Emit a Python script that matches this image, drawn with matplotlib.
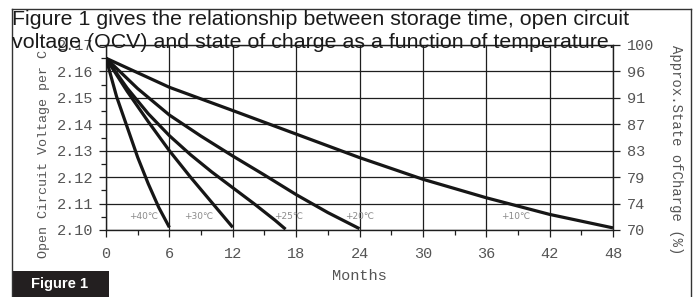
import matplotlib
matplotlib.use("Agg")
import matplotlib.pyplot as plt
from matplotlib.lines import Line2D
from matplotlib.patches import Rectangle
from matplotlib.transforms import Bbox, TransformedBbox

# ---- data ----
months_40 = [0, 1, 2, 3, 4, 5, 6]
ocv_40 = [2.165, 2.1505, 2.1390, 2.1275, 2.1175, 2.1085, 2.1010]
months_30 = [0, 2, 4, 6, 8, 10, 12]
ocv_30 = [2.165, 2.1525, 2.1410, 2.1300, 2.1200, 2.1105, 2.1010]
months_25 = [0, 2, 4, 6, 8, 10, 12, 14, 16, 17]
ocv_25 = [2.165, 2.1537, 2.1440, 2.1357, 2.1285, 2.1220, 2.1160, 2.1100, 2.1037, 2.1003]
months_20 = [0, 3, 6, 9, 12, 15, 18, 21, 24]
ocv_20 = [2.165, 2.1535, 2.1435, 2.1355, 2.1280, 2.1208, 2.1134, 2.1066, 2.1005]
months_10 = [0, 6, 12, 18, 24, 30, 36, 42, 48]
ocv_10 = [2.165, 2.1540, 2.1452, 2.1363, 2.1274, 2.1192, 2.1122, 2.1059, 2.1008]

curve_labels = ["+40\u2103", "+30\u2103", "+25\u2103", "+20\u2103", "+10\u2103"]
label_months = [3.6, 8.8, 17.3, 24.0, 38.8]
label_ocv = [2.1050, 2.1050, 2.1050, 2.1050, 2.1050]

x_ticks = [0, 6, 12, 18, 24, 30, 36, 42, 48]
ocv_ticks = [2.10, 2.11, 2.12, 2.13, 2.14, 2.15, 2.16, 2.17]
soc_labels = ["70", "74", "79", "83", "87", "91", "96", "100"]

title_line1 = "Figure 1 gives the relationship between storage time, open circuit"
title_line2 = "voltage (OCV) and state of charge as a function of temperature."

# ---- figure ----
W, H = 699, 297
fig = plt.figure(figsize=(W / 100, H / 100), dpi=100)
fig.patch.set_facecolor("white")

def fx(px):
    return px / W

def fy(py):
    return 1 - py / H

left_px, right_px, top_px, bot_px = 106, 613, 45, 230
ax = fig.add_axes([fx(left_px), fy(bot_px), fx(right_px - left_px), (bot_px - top_px) / H])

grid_c = "#1e1e1e"
line_c = "#161616"
lab_c = "#555555"
mono = "Liberation Mono"

for m, v in [(months_40, ocv_40), (months_30, ocv_30), (months_25, ocv_25),
             (months_20, ocv_20), (months_10, ocv_10)]:
    ax.plot(m, v, color=line_c, lw=2.3, solid_capstyle="butt",
            solid_joinstyle="round", zorder=3)

ax.set_xlim(0, 48)
ax.set_ylim(2.10, 2.17)
ax.set_xticks(x_ticks)
ax.set_xticks([3, 9, 15, 21, 27, 33, 39, 45], minor=True)
ax.set_yticks(ocv_ticks)
ax.set_yticks([2.105, 2.115, 2.125, 2.135, 2.145, 2.155, 2.165], minor=True)
ax.set_yticklabels(["%.2f" % t for t in ocv_ticks])
ax.grid(True, which="major", color=grid_c, lw=0.9)
ax.set_axisbelow(True)
for s in ax.spines.values():
    s.set_color(grid_c)
    s.set_linewidth(1.0)

ax.tick_params(axis="y", which="major", length=5, width=0.9, color=grid_c,
               labelcolor=lab_c, labelsize=11, pad=4)
ax.tick_params(axis="x", which="major", length=5, width=0.9, color=grid_c,
               labelcolor=lab_c, labelsize=11, pad=7)
ax.tick_params(axis="both", which="minor", length=3.5, width=0.9, color=grid_c)
for t in ax.get_xticklabels() + ax.get_yticklabels():
    t.set_fontfamily(mono)

ax2 = ax.twinx()
ax2.set_ylim(ax.get_ylim())
ax2.set_yticks(ocv_ticks)
ax2.set_yticklabels(soc_labels)
ax2.tick_params(axis="y", length=5, width=0.9, color=grid_c, labelcolor=lab_c,
                labelsize=11, pad=5)
for t in ax2.get_yticklabels():
    t.set_fontfamily(mono)
for s in ax2.spines.values():
    s.set_visible(False)

for lab, m, v in zip(curve_labels, label_months, label_ocv):
    ax.text(m, v, lab, fontsize=6.5, color="#8a8a8a", ha="center", va="center",
            family=["DejaVu Sans", "Noto Sans CJK SC"], zorder=4)

# axis titles
ax.set_xlabel("Months", fontfamily=mono, fontsize=11, color=lab_c, labelpad=6)
ylab = fig.text(fx(44), fy(258), "Open Circuit Voltage per Cell", rotation=90,
                ha="center", va="bottom", fontfamily=mono, fontsize=9.6, color=lab_c)
ylab.set_clip_box(TransformedBbox(Bbox([[0, 0], [1, fy(50)]]), fig.transFigure))
ylab.set_clip_on(True)
fig.text(fx(676), fy(45), "Approx.State ofCharge (%)", rotation=270,
         ha="center", va="top", fontfamily=mono, fontsize=10, color=lab_c)

# title text
fig.text(fx(12), fy(25), title_line1, ha="left", va="baseline",
         fontfamily="Liberation Sans", fontsize=15.4, color="#1a1a1a")
fig.text(fx(12), fy(48), title_line2, ha="left", va="baseline",
         fontfamily="Liberation Sans", fontsize=15.4, color="#1a1a1a")

# outer frame
frame_c = "#333333"
fig.add_artist(Line2D([fx(12), fx(12)], [fy(9), 0], color=frame_c, lw=1.0))
fig.add_artist(Line2D([fx(12), fx(691)], [fy(9), fy(9)], color=frame_c, lw=1.0))
fig.add_artist(Line2D([fx(691), fx(691)], [fy(9), 0], color=frame_c, lw=1.0))

# "Figure 1" tag
fig.add_artist(Rectangle((fx(12), 0), fx(109 - 12), (297 - 271) / H,
                         transform=fig.transFigure, facecolor="#231f20", edgecolor="none"))
fig.text(fx(31), fy(284), "Figure 1", ha="left", va="center", fontfamily="Liberation Sans",
         fontweight="bold", fontsize=10.6, color="white")

fig.savefig("out.png", dpi=100, facecolor="white")
